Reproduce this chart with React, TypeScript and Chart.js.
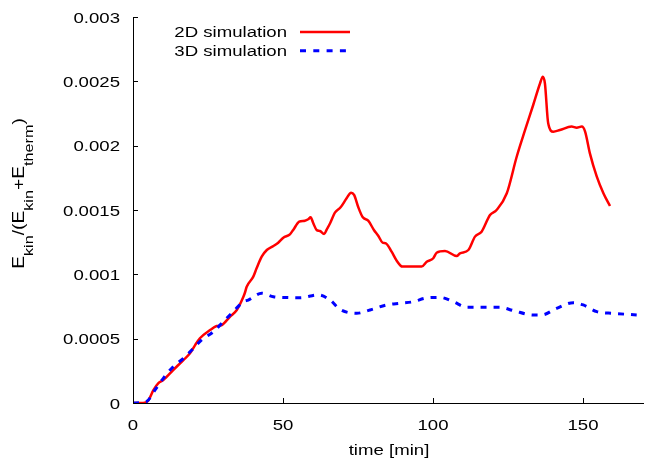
import React, { useEffect, useRef } from "react";
import { Chart, registerables } from "chart.js";

Chart.register(...registerables);

// [time (min), Ekin/(Ekin+Etherm)]
const series2D: [number, number][] = [
  [0, 0], [3.4, 0], [5.1, 0.00002], [6.8, 0.0001], [8.4, 0.000153], [10.1, 0.000179],
  [13.4, 0.000256], [16.8, 0.000334], [19, 0.000386], [20.7, 0.00045], [22.3, 0.000503],
  [25.7, 0.000567], [27.9, 0.000598], [29.6, 0.000606], [32.3, 0.00067], [34.6, 0.000723],
  [36.8, 0.000826], [37.3, 0.000857], [37.9, 0.000904], [40.1, 0.000982], [41.2, 0.001047],
  [42.9, 0.001137], [44.6, 0.001189], [46.8, 0.00122], [48.4, 0.001246], [50.1, 0.001285],
  [52.3, 0.001311], [53.4, 0.001345], [55.4, 0.001409], [57.3, 0.001417], [58.4, 0.001428],
  [59.2, 0.001443], [60.1, 0.001397], [61.2, 0.001345], [62.3, 0.001337], [63.7, 0.001313],
  [64.6, 0.00135], [65.7, 0.001397], [67.3, 0.001479], [69.2, 0.001521], [71.2, 0.001591],
  [72.7, 0.001635], [73.7, 0.001617], [75.1, 0.001521], [76.6, 0.001443], [78.4, 0.001417],
  [80.3, 0.001345], [81.8, 0.001298], [83.2, 0.001246], [84.3, 0.001241], [86.2, 0.001176],
  [87.9, 0.001106], [89.8, 0.00106], [96.2, 0.00106], [97.9, 0.001098], [100.1, 0.001125],
  [101.2, 0.001168], [104, 0.001181], [107.9, 0.001142], [109, 0.001163], [111.8, 0.001189],
  [114, 0.001293], [116.2, 0.001331], [119, 0.001461], [121.2, 0.0015], [124.6, 0.00163],
  [127.9, 0.001914], [130.7, 0.002122], [133.4, 0.002316], [135.7, 0.002485], [136.6, 0.002536],
  [137.3, 0.002485], [138.4, 0.002174], [140.1, 0.002109], [142.3, 0.002122], [146.2, 0.002148],
  [147.9, 0.00214], [149.6, 0.002148], [150.7, 0.002109], [152.3, 0.00194], [154.6, 0.001759],
  [156.8, 0.00163], [159, 0.001531],
];

const series3D: [number, number][] = [
  [0, 0], [4.4, 0.00001], [7.3, 0.0001], [10.1, 0.000192], [13.4, 0.000282], [16.8, 0.000347],
  [19.6, 0.000412], [22.9, 0.00049], [26.8, 0.000554], [30.1, 0.000632], [33.4, 0.00071],
  [36.8, 0.000787], [38.4, 0.0008], [42.9, 0.000853], [46.8, 0.000826], [51.2, 0.00082],
  [55.7, 0.000818], [61.8, 0.00084], [65.7, 0.0008], [69, 0.000728], [74.6, 0.000697],
  [79, 0.000723], [84.6, 0.000762], [89, 0.000775], [93.4, 0.000787], [97.3, 0.000814],
  [102.3, 0.000821], [106.8, 0.000787], [111.2, 0.000744], [117.9, 0.000744], [122.3, 0.000744],
  [126.8, 0.000718], [133.4, 0.000684], [136.2, 0.000684], [141.2, 0.000736], [146.8, 0.00078],
  [150.1, 0.000762], [154.6, 0.00071], [160.1, 0.000697], [167.9, 0.000684],
];

const seriesNames = ["2D simulation", "3D simulation"];
const xTicks = [0, 50, 100, 150];
const xMin = 0;
const xMax = 170;
const yTicks = [0, 0.0005, 0.001, 0.0015, 0.002, 0.0025, 0.003];
const yTickLabels = ["0", "0.0005", "0.001", "0.0015", "0.002", "0.0025", "0.003"];
const xTitle = "time [min]";
const FONT = "'Liberation Sans', Arial, sans-serif";
const SIZE = 15.5;
const STRETCH = 1.2;

function stretchedText(
  ctx: CanvasRenderingContext2D,
  text: string,
  x: number,
  y: number,
  align: CanvasTextAlign,
  size = SIZE,
) {
  ctx.save();
  ctx.font = `${size}px ${FONT}`;
  ctx.textAlign = align;
  ctx.textBaseline = "alphabetic";
  ctx.translate(x, y);
  ctx.scale(STRETCH, 1);
  ctx.fillText(text, 0, 0);
  ctx.restore();
}

const decorPlugin = {
  id: "decor",
  afterDraw(chart: any) {
    const ctx = chart.ctx as CanvasRenderingContext2D;
    const xs = chart.scales.x;
    const ys = chart.scales.y;
    const area = chart.chartArea;
    ctx.save();
    // inner ticks
    ctx.strokeStyle = "#000";
    ctx.lineWidth = 1;
    ctx.beginPath();
    for (const v of yTicks) {
      const y = Math.round(ys.getPixelForValue(v)) + 0.5;
      ctx.moveTo(area.left, y);
      ctx.lineTo(area.left + 5, y);
    }
    for (const v of xTicks) {
      const x = Math.round(xs.getPixelForValue(v)) + 0.5;
      ctx.moveTo(x, area.bottom);
      ctx.lineTo(x, area.bottom - 5);
    }
    ctx.stroke();

    ctx.fillStyle = "#000";
    // tick labels
    yTicks.forEach((v, i) => {
      const y = ys.getPixelForValue(v);
      stretchedText(ctx, yTickLabels[i], area.left - 13, y + 0.358 * SIZE, "right");
    });
    xTicks.forEach((v) => {
      const x = xs.getPixelForValue(v);
      stretchedText(ctx, String(v), x, 429.5, "center");
    });

    // legend
    const legendText = [37, 55.5];
    const legendLine = [32, 50.7];
    const colors = ["#ff0000", "#0000ff"];
    seriesNames.forEach((name, i) => {
      ctx.fillStyle = "#000";
      stretchedText(ctx, name, 287, legendText[i], "right");
      ctx.beginPath();
      ctx.strokeStyle = colors[i];
      ctx.lineWidth = i === 0 ? 2.5 : 3;
      ctx.setLineDash(i === 0 ? [] : [6, 7.3]);
      ctx.moveTo(300, legendLine[i]);
      ctx.lineTo(350, legendLine[i]);
      ctx.stroke();
    });
    ctx.setLineDash([]);

    // x title
    ctx.fillStyle = "#000";
    stretchedText(ctx, xTitle, 389, 454.5, "center");

    // y title with subscripts
    const parts: [string, boolean][] = [
      ["E", false], ["kin", true], ["/(E", false], ["kin", true], ["+E", false], ["therm", true], [")", false],
    ];
    const big = `16px ${FONT}`;
    const small = `13.5px ${FONT}`;
    let total = 0;
    for (const [t, sub] of parts) {
      ctx.font = sub ? small : big;
      total += ctx.measureText(t).width;
    }
    ctx.translate(0, 193.5);
    ctx.rotate(-Math.PI / 2);
    ctx.scale(STRETCH, 1);
    ctx.textAlign = "left";
    ctx.textBaseline = "alphabetic";
    let x = -total / 2;
    for (const [t, sub] of parts) {
      ctx.font = sub ? small : big;
      ctx.fillText(t, x, sub ? 32.5 : 24);
      x += ctx.measureText(t).width;
    }
    ctx.restore();
  },
};

export default function App() {
  const ref = useRef<HTMLCanvasElement>(null);
  useEffect(() => {
    if (!ref.current) return;
    const chart = new Chart(ref.current, {
      type: "line",
      data: {
        datasets: [
          {
            label: seriesNames[0],
            data: series2D.map(([x, y]) => ({ x, y })),
            borderColor: "#ff0000",
            borderWidth: 2.5,
            pointRadius: 0,
            cubicInterpolationMode: "monotone",
            fill: false,
            order: 1,
          },
          {
            label: seriesNames[1],
            data: series3D.map(([x, y]) => ({ x, y })),
            borderColor: "#0000ff",
            borderWidth: 3,
            borderDash: [6, 7],
            pointRadius: 0,
            cubicInterpolationMode: "monotone",
            fill: false,
            order: 0,
          },
        ],
      },
      options: {
        responsive: false,
        animation: false,
        events: [],
        layout: { padding: { top: 17, right: 7, left: 0, bottom: 0 } },
        plugins: { legend: { display: false }, tooltip: { enabled: false } },
        scales: {
          x: {
            type: "linear",
            min: xMin,
            max: xMax,
            grid: { display: false, drawTicks: false },
            border: { display: true, color: "#000", width: 1 },
            afterBuildTicks: (axis: any) => {
              axis.ticks = xTicks.map((v) => ({ value: v }));
            },
            afterFit: (axis: any) => {
              axis.height = 55;
              axis.paddingLeft = 0;
              axis.paddingRight = 0;
            },
            ticks: { display: false },
          },
          y: {
            type: "linear",
            min: yTicks[0],
            max: yTicks[yTicks.length - 1],
            grid: { display: false, drawTicks: false },
            border: { display: true, color: "#000", width: 1 },
            afterBuildTicks: (axis: any) => {
              axis.ticks = yTicks.map((v) => ({ value: v }));
            },
            afterFit: (axis: any) => {
              axis.width = 133;
              axis.paddingTop = 0;
              axis.paddingBottom = 0;
            },
            ticks: { display: false },
          },
        },
      },
      plugins: [decorPlugin],
    } as any);
    return () => chart.destroy();
  }, []);
  return (
    <div style={{ position: "fixed", left: 0, top: 0, width: 650, height: 458, background: "#fff" }}>
      <canvas ref={ref} width={650} height={458} style={{ width: 650, height: 458, display: "block" }} />
    </div>
  );
}
